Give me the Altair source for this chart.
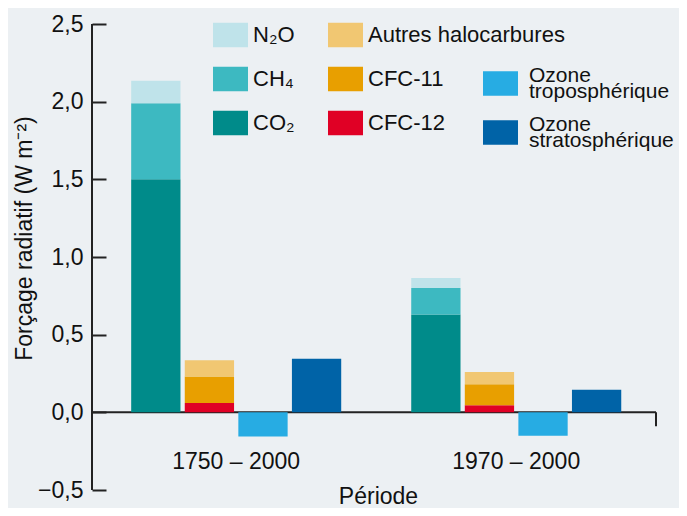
import altair as alt
import pandas as pd

# ---- data ----
periods = ["1750 – 2000", "1970 – 2000"]
slots = ["gaz", "halo", "tropo", "strato"]

gas_names = ["N₂O", "CH₄", "CO₂"]
gas_colors = ["#BFE3EA", "#3DB9C1", "#008B8A"]
co2 = [1.50, 0.63]
ch4 = [0.49, 0.17]
n2o = [0.145, 0.065]

halo_names = ["Autres halocarbures", "CFC-11", "CFC-12"]
halo_colors = ["#F1C772", "#E89F00", "#E00025"]
cfc12 = [0.06, 0.045]
cfc11 = [0.17, 0.135]
autres = [0.105, 0.08]

ozone_names = ["Ozone troposphérique", "Ozone stratosphérique"]
ozone_colors = ["#27ACE3", "#0063A7"]
ozone_tropo = [-0.155, -0.15]
ozone_strato = [0.345, 0.145]

y_ticks = [-0.5, 0.0, 0.5, 1.0, 1.5, 2.0, 2.5]

# ---- table ----
rows = []
for i, p in enumerate(periods):
    for k, (name, vals) in enumerate([("CO₂", co2), ("CH₄", ch4), ("N₂O", n2o)]):
        rows.append(dict(period=p, slot="gaz", group="gaz", species=name, value=vals[i], order=k))
    for k, (name, vals) in enumerate([("CFC-12", cfc12), ("CFC-11", cfc11), ("Autres halocarbures", autres)]):
        rows.append(dict(period=p, slot="halo", group="halo", species=name, value=vals[i], order=k))
    rows.append(dict(period=p, slot="tropo", group="ozone", species=ozone_names[0], value=ozone_tropo[i], order=0))
    rows.append(dict(period=p, slot="strato", group="ozone", species=ozone_names[1], value=ozone_strato[i], order=0))
df = pd.DataFrame(rows)
one = pd.DataFrame({"k": [0]})

TXT = "#111111"
LINE = "#222222"
W, H = 564, 466

x_enc = alt.X(
    "period:N",
    scale=alt.Scale(domain=periods, paddingInner=0.25, paddingOuter=0.132, align=0.53),
    axis=alt.Axis(
        orient="bottom", offset=-77.67, domain=False, ticks=False, tickSize=0,
        labelPadding=38, labelAngle=0, labelFontSize=23, labelColor=TXT,
        title="Période", titleFontSize=23, titleFontWeight="normal", titleColor=TXT,
        titleBaseline="alphabetic", titleY=91, titleX=286,
    ),
)
xo_enc = alt.XOffset("slot:N", scale=alt.Scale(domain=slots, paddingInner=0.08, paddingOuter=0))
y_enc = alt.Y(
    "value:Q",
    scale=alt.Scale(domain=[-0.5, 2.5], nice=False, zero=False),
    axis=alt.Axis(
        values=y_ticks,
        labelExpr="replace(format(datum.value, '.1f'), '.', ',')",
        offset=-14, domain=False, tickSize=14, tickWidth=2, tickColor=LINE,
        labelPadding=9, labelFontSize=23, labelColor=TXT, grid=False,
        title="Forçage radiatif (W m⁻²)", titleFontSize=23, titleFontWeight="normal",
        titleColor=TXT, titleBaseline="alphabetic", titleX=-75, titleY=214,
    ),
)
order_enc = alt.Order("order:Q", sort="ascending")

RECT = "M-1,-0.7H1V0.7H-1Z"


def leg(x, y, rowpad, offset=5, size=22, **kw):
    return alt.Legend(
        title=None, orient="none", legendX=x, legendY=y, direction="vertical",
        symbolType=RECT, symbolSize=1225, symbolStrokeWidth=0, symbolOpacity=1,
        labelFontSize=size, labelColor=TXT, labelOffset=offset, rowPadding=rowpad,
        labelLimit=400, padding=0, **kw,
    )


gas = (
    alt.Chart(df).transform_filter("datum.group == 'gaz'").mark_bar()
    .encode(
        x=x_enc, xOffset=xo_enc, y=y_enc, order=order_enc,
        color=alt.Color("species:N", scale=alt.Scale(domain=gas_names, range=gas_colors),
                        legend=leg(121, -6.5, 14)),
    )
)
halo = (
    alt.Chart(df).transform_filter("datum.group == 'halo'").mark_bar()
    .encode(
        x=x_enc, xOffset=xo_enc, y=y_enc, order=order_enc,
        color=alt.Color("species:N", scale=alt.Scale(domain=halo_names, range=halo_colors),
                        legend=leg(236, -6.5, 14)),
    )
)
ozone = (
    alt.Chart(df).transform_filter("datum.group == 'ozone'").mark_bar()
    .encode(
        x=x_enc, xOffset=xo_enc, y=y_enc, order=order_enc,
        color=alt.Color("species:N", scale=alt.Scale(domain=ozone_names, range=ozone_colors),
                        legend=leg(391, 42, 11, offset=11, size=21,
                                   labelExpr="split(datum.label, ' ')",
                                   labelBaseline="line-bottom")),
    )
)

zero_line = alt.Chart(one).mark_rule(color=LINE, strokeWidth=2).encode(y=alt.datum(0))
y_line = alt.Chart(one).mark_rule(color=LINE, strokeWidth=2).encode(
    x=alt.value(0), y=alt.datum(2.5), y2=alt.datum(-0.5)
)
end_tick = alt.Chart(one).mark_rule(color=LINE, strokeWidth=2).encode(
    x=alt.value(W), y=alt.datum(0), y2=alt.datum(-0.09)
)

chart = (
    alt.layer(zero_line, gas, halo, ozone, y_line, end_tick)
    .resolve_scale(color="independent")
    .properties(
        width=W, height=H,
        padding={"left": 84, "top": 16, "right": 23, "bottom": 18},
        autosize=alt.AutoSizeParams(type="none"),
        background="#ECF0F3",
    )
    .configure(font="Liberation Sans", style={"guide-label": {"lineHeight": 16}})
    .configure_view(stroke=None)
)

chart.save("out.html", embed_options={"renderer": "svg", "actions": False})
